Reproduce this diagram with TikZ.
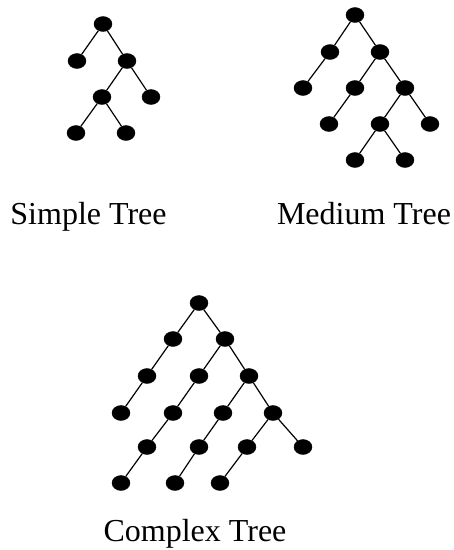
\documentclass[tikz,border=0pt]{standalone}
\usepackage{fontspec}
\setmainfont{Liberation Serif}
\usetikzlibrary{shapes.geometric}

\begin{document}
\begin{tikzpicture}[
    x=1pt, y=-1pt,
    dot/.style={ellipse, draw, fill=black, inner sep=0pt, minimum width=18pt, minimum height=15pt},
    edge/.style={draw, line width=1.2pt},
    caption/.style={anchor=base, inner sep=0pt, font=\fontsize{32}{38}\selectfont}
]
\useasboundingbox (0,0) rectangle (454,550);

% Simple tree
\node[dot] (s0) at (103,24) {};
\node[dot] (s1) at (77,61) {};
\node[dot] (s2) at (127,61) {};
\node[dot] (s3) at (102,97) {};
\node[dot] (s4) at (151,97) {};
\node[dot] (s5) at (76,133) {};
\node[dot] (s6) at (126,133) {};

\draw[edge] (s0) -- (s1);
\draw[edge] (s0) -- (s2);
\draw[edge] (s2) -- (s3);
\draw[edge] (s2) -- (s4);
\draw[edge] (s3) -- (s5);
\draw[edge] (s3) -- (s6);

% Medium tree
\node[dot] (m0) at (355,15) {};
\node[dot] (m1) at (330,52) {};
\node[dot] (m2) at (380,52) {};
\node[dot] (m3) at (303,88) {};
\node[dot] (m4) at (355,88) {};
\node[dot] (m5) at (405,88) {};
\node[dot] (m6) at (329,124) {};
\node[dot] (m7) at (380,124) {};
\node[dot] (m8) at (430,124) {};
\node[dot] (m9) at (355,160) {};
\node[dot] (m10) at (405,160) {};

\draw[edge] (m0) -- (m1);
\draw[edge] (m0) -- (m2);
\draw[edge] (m1) -- (m3);
\draw[edge] (m2) -- (m4);
\draw[edge] (m2) -- (m5);
\draw[edge] (m4) -- (m6);
\draw[edge] (m5) -- (m7);
\draw[edge] (m5) -- (m8);
\draw[edge] (m7) -- (m9);
\draw[edge] (m7) -- (m10);

% Complex tree
\node[dot] (c0) at (199,303) {};
\node[dot] (c1) at (173,339) {};
\node[dot] (c2) at (225,339) {};
\node[dot] (c3) at (147,376) {};
\node[dot] (c4) at (199,376) {};
\node[dot] (c5) at (249,376) {};
\node[dot] (c6) at (121,413) {};
\node[dot] (c7) at (173,413) {};
\node[dot] (c8) at (223,413) {};
\node[dot] (c9) at (273,413) {};
\node[dot] (c10) at (147,447) {};
\node[dot] (c11) at (199,447) {};
\node[dot] (c12) at (247,447) {};
\node[dot] (c13) at (303,447) {};
\node[dot] (c14) at (121,483) {};
\node[dot] (c15) at (175,483) {};
\node[dot] (c16) at (220,483) {};

\draw[edge] (c0) -- (c1);
\draw[edge] (c0) -- (c2);
\draw[edge] (c1) -- (c3);
\draw[edge] (c3) -- (c6);
\draw[edge] (c2) -- (c4);
\draw[edge] (c2) -- (c5);
\draw[edge] (c4) -- (c7);
\draw[edge] (c7) -- (c10);
\draw[edge] (c10) -- (c14);
\draw[edge] (c5) -- (c8);
\draw[edge] (c5) -- (c9);
\draw[edge] (c8) -- (c11);
\draw[edge] (c11) -- (c15);
\draw[edge] (c9) -- (c12);
\draw[edge] (c9) -- (c13);
\draw[edge] (c12) -- (c16);

% Captions
\node[caption] (simple) at (88.5,224) {Simple Tree};
\node[caption] (medium) at (364,224) {Medium Tree};
\node[caption] (complex) at (195,541) {Complex Tree};

\end{tikzpicture}
\end{document}
